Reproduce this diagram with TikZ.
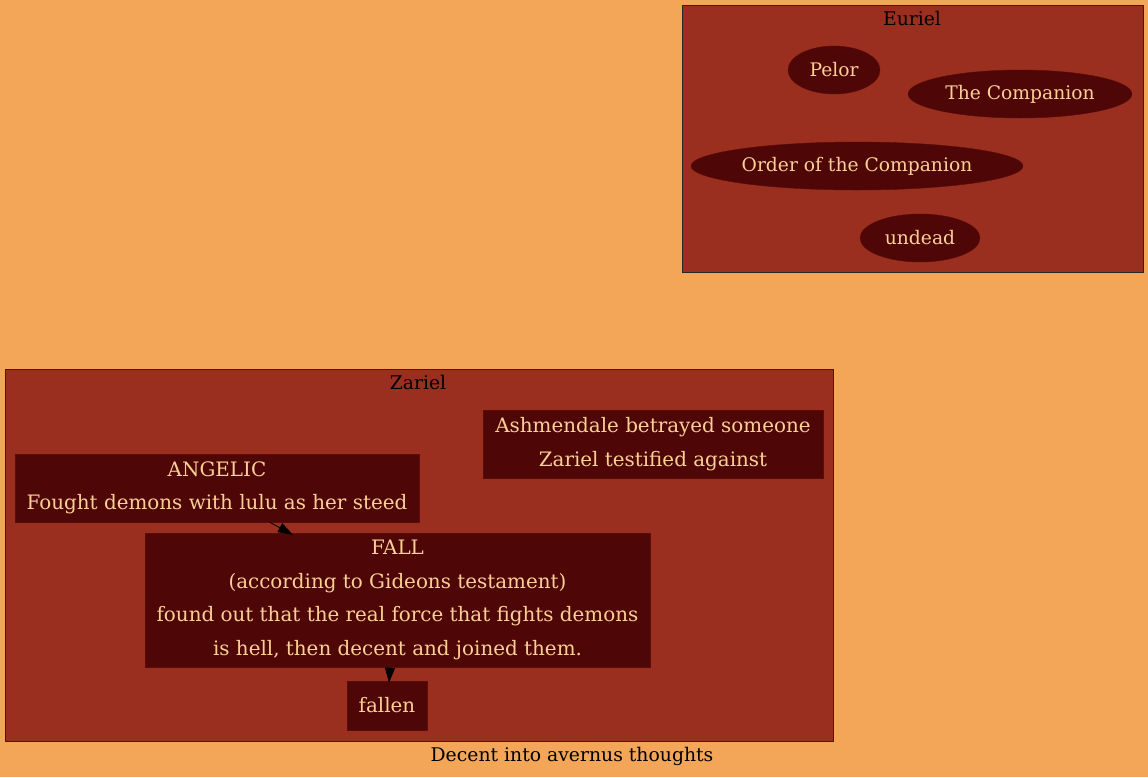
\documentclass[tikz,border=0pt]{standalone}
\usepackage{fontspec}
\setmainfont{DejaVu Serif}
\usetikzlibrary{arrows.meta,shapes.geometric}
\definecolor{bgc}{RGB}{243,166,87}
\definecolor{clc}{RGB}{155,47,31}
\definecolor{ndc}{RGB}{78,6,6}
\definecolor{ndl}{RGB}{92,12,10}
\definecolor{txc}{RGB}{250,208,150}
\tikzset{
  cluster/.style={draw=black!85, fill=clc, line width=0.8pt},
  box/.style={rectangle, draw=ndl, fill=ndc, text=txc, inner sep=0pt, align=center,
    font=\fontsize{19.9}{33.5}\selectfont},
  oval/.style={ellipse, draw=ndl, fill=ndc, text=txc, inner sep=0pt,
    font=\fontsize{18.7}{22}\selectfont},
  clabel/.style={text=black, inner sep=0pt, font=\fontsize{18.8}{22}\selectfont},
  edge/.style={draw=black, line width=0.8pt, -{Triangle[length=15pt,width=10pt]}}
}
\begin{document}
\begin{tikzpicture}[x=1pt,y=-1pt]
\fill[bgc] (0,0) rectangle (1148,777);
\useasboundingbox (0,0) rectangle (1148,777);
% Euriel cluster
\draw[cluster] (682,5) rectangle (1143,272);
\node[clabel] (eurlab) at (912,18) {Euriel};
\node[oval, minimum width=92pt, minimum height=48pt] (pelor) at (834,70) {Pelor};
\node[oval, minimum width=224pt, minimum height=48pt] (comp) at (1020,94) {The Companion};
\node[oval, minimum width=332pt, minimum height=48pt] (order) at (857,166) {Order of the Companion};
\node[oval, minimum width=120pt, minimum height=48pt] (undead) at (920,238) {undead};
% Zariel cluster
\draw[cluster] (5,369) rectangle (833,741);
\node[clabel] (zarlab) at (418,382) {Zariel};
\node[box, minimum width=340pt, minimum height=68pt] (ash) at (653,444)
  {Ashmendale betrayed someone\\Zariel testified against};
\node[box, minimum width=404pt, minimum height=68pt] (angelic) at (217,488)
  {ANGELIC\\Fought demons with lulu as her steed};
\node[box, minimum width=505pt, minimum height=134pt] (fall) at (397.5,600)
  {FALL\\(according to Gideons testament)\\found out that the real force that fights demons\\is hell, then decent and joined them.};
\node[box, minimum width=80pt, minimum height=49pt] (fallen) at (387,705.5) {fallen};
\draw[edge] (angelic.-33) -- ([xshift=-1pt,yshift=-2pt]fall.147.6);
\draw[edge] ([xshift=3pt]fall.south -| fallen.north) -- ([xshift=2pt,yshift=-2pt]fallen.north);
% caption
\node[clabel] (cap) at (572,756) {Decent into avernus thoughts};
\end{tikzpicture}
\end{document}
